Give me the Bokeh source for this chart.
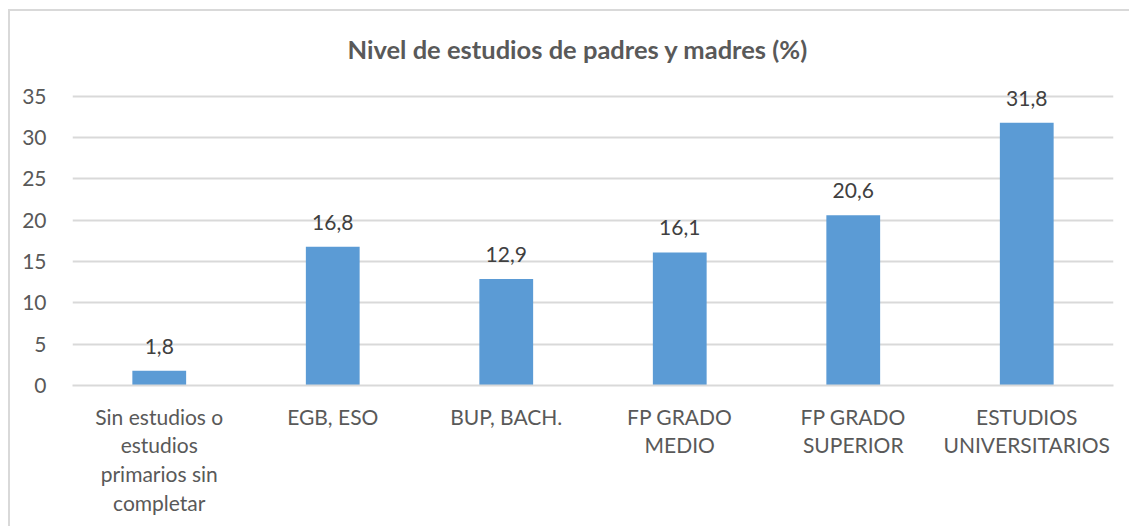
from bokeh.plotting import figure
from bokeh.models import ColumnDataSource, Range1d, FactorRange, FixedTicker
from bokeh.embed import file_html
from bokeh.resources import INLINE
from bokeh.core.properties import value

categories = ["Sin estudios o\nestudios\nprimarios sin\ncompletar", "EGB, ESO", "BUP, BACH.",
              "FP GRADO\nMEDIO", "FP GRADO\nSUPERIOR", "ESTUDIOS\nUNIVERSITARIOS"]
values = [1.8, 16.8, 12.9, 16.1, 20.6, 31.8]
labels = [f"{v:.1f}".replace(".", ",") for v in values]
yticks = [0, 5, 10, 15, 20, 25, 30, 35]

FONT = "Lato"
GREY = "#595959"

src = ColumnDataSource(dict(cat=categories, val=values, lab=labels))

# frame extends above 35 so value labels are not clipped; grid stops at 35
p = figure(width=1121, height=517, x_range=FactorRange(*categories), y_range=Range1d(0, 38),
           output_backend="svg", toolbar_location=None,
           min_border_left=62, min_border_right=18, min_border_top=60, min_border_bottom=143)
p.styles = {"margin-left": "8px", "margin-top": "9px",
            "border-top": "2px solid #d9d9d9", "border-left": "2px solid #d9d9d9"}
p.outline_line_color = None

p.title.text = "Nivel de estudios de padres y madres (%)"
p.title.align = "left"
p.title.offset = 275
p.title.text_font = FONT
p.title.text_font_size = "25.5px"
p.title.text_color = GREY
p.title.text_font_style = "bold"
p.title.standoff = 15

p.vbar(x="cat", top="val", width=0.31, source=src, fill_color="#5b9bd5", line_color=None)
p.text(x="cat", y="val", text="lab", source=src, text_align="center", text_baseline="bottom",
       y_offset=-17, text_font=value(FONT), text_font_size="21px", text_color="#404040")

p.yaxis.ticker = FixedTicker(ticks=yticks)
p.yaxis.axis_line_color = None
p.yaxis.major_tick_line_color = None
p.yaxis.minor_tick_line_color = None
p.yaxis.major_label_standoff = 20
p.xaxis.axis_line_color = "#d9d9d9"
p.xaxis.axis_line_width = 2
p.xaxis.major_tick_line_color = None
p.xaxis.major_label_standoff = 12
p.xaxis.major_label_text_line_height = 1.15
for ax in (p.xaxis, p.yaxis):
    ax.major_label_text_font = FONT
    ax.major_label_text_font_size = "21px"
    ax.major_label_text_color = GREY
p.xgrid.grid_line_color = None
p.ygrid.grid_line_color = "#d9d9d9"
p.ygrid.grid_line_width = 2

open("out.html", "w").write(file_html(p, INLINE))
